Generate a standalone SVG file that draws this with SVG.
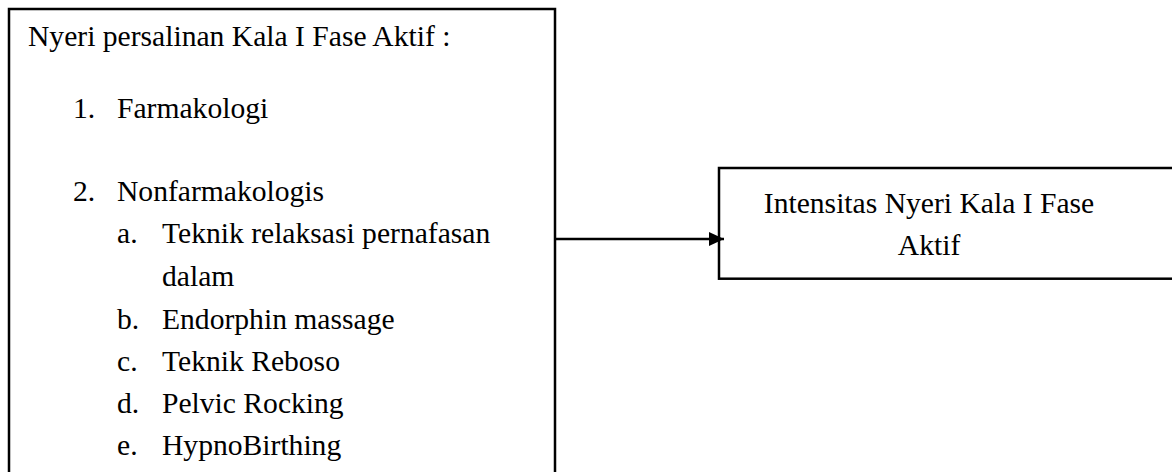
<svg xmlns="http://www.w3.org/2000/svg" width="1172" height="472" viewBox="0 0 1172 472">
  <defs>
    <style>
      .box { fill: #ffffff; stroke: #000000; stroke-width: 2.5; }
      .t { font-family: "Liberation Serif", serif; font-size: 29.6px; fill: #000000; }
      .c { text-anchor: middle; }
      .edge { stroke: #000000; stroke-width: 2.5; fill: none; }
    </style>
    <marker id="arrow" viewBox="0 0 15 14" refX="15" refY="7" markerWidth="15" markerHeight="14" markerUnits="userSpaceOnUse" orient="auto">
      <path d="M0,0 L15,7 L0,14 Z" fill="#000000"/>
    </marker>
  </defs>
  <rect width="1172" height="472" fill="#ffffff"/>

  <g id="node-causes">
    <rect class="box" x="9" y="9" width="546" height="480"/>
    <text class="t" x="28" y="46">Nyeri persalinan Kala I Fase Aktif :</text>
    <text class="t" x="73" y="118">1.</text>
    <text class="t" x="117" y="118">Farmakologi</text>
    <text class="t" x="73" y="201">2.</text>
    <text class="t" x="117" y="201">Nonfarmakologis</text>
    <text class="t" x="117" y="243">a.</text>
    <text class="t" x="162" y="243">Teknik relaksasi pernafasan</text>
    <text class="t" x="162" y="286">dalam</text>
    <text class="t" x="117" y="329">b.</text>
    <text class="t" x="162" y="329">Endorphin massage</text>
    <text class="t" x="117" y="371">c.</text>
    <text class="t" x="162" y="371">Teknik Reboso</text>
    <text class="t" x="117" y="413">d.</text>
    <text class="t" x="162" y="413">Pelvic Rocking</text>
    <text class="t" x="117" y="455">e.</text>
    <text class="t" x="162" y="455">HypnoBirthing</text>
  </g>

  <g id="node-outcome">
    <rect class="box" x="719" y="168" width="470" height="110.7"/>
    <text class="t c" x="929" y="213">Intensitas Nyeri Kala I Fase</text>
    <text class="t c" x="929" y="255">Aktif</text>
  </g>

  <g id="connectors">
    <line class="edge" x1="555" y1="239" x2="724" y2="239" marker-end="url(#arrow)"/>
  </g>
</svg>
